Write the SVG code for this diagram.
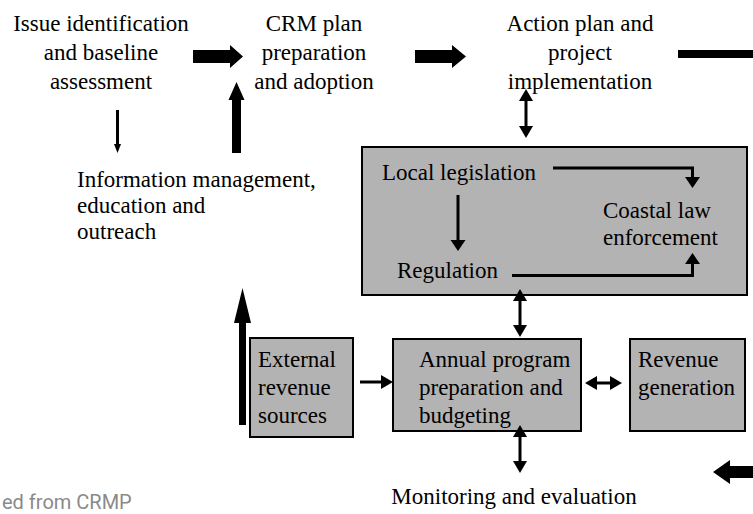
<svg xmlns="http://www.w3.org/2000/svg" width="753" height="514" viewBox="0 0 753 514">
  <style>
    text.t { font-family: 'Liberation Serif', 'Times New Roman', Tinos, 'DejaVu Serif', serif; font-size: 23px; fill: #000; }
    text.c { text-anchor: middle; }
    .box { fill: #b3b3b3; stroke: #000; stroke-width: 2; }
    .blk { fill: #000; }
    .ln { fill: none; stroke: #000; stroke-width: 3; }
    text.note { font-family: Roboto, 'Noto Sans', sans-serif; font-size: 20px; fill: #8a8a8a; }
  </style>
  <defs>
    <!-- arrowheads are anchored at their base, so lines stop where the head begins -->
    <marker id="ah" viewBox="0 0 12 14" refX="0" refY="7" markerWidth="12" markerHeight="14" markerUnits="userSpaceOnUse" orient="auto-start-reverse" overflow="visible">
      <path d="M0,0 L12,7 L0,14 Z" fill="#000"/>
    </marker>
    <marker id="ahw" viewBox="0 0 11 15" refX="0" refY="7.5" markerWidth="11" markerHeight="15" markerUnits="userSpaceOnUse" orient="auto" overflow="visible">
      <path d="M0,0 L11,7.5 L0,15 Z" fill="#000"/>
    </marker>
    <marker id="ahs" viewBox="0 0 9 7" refX="0" refY="3.5" markerWidth="9" markerHeight="7" markerUnits="userSpaceOnUse" orient="auto" overflow="visible">
      <path d="M0,0 L9,3.5 L0,7 Z" fill="#000"/>
    </marker>
  </defs>

  <!-- nodes -->
  <g id="issue-identification">
    <text class="t c" x="101" y="31">Issue identification</text>
    <text class="t c" x="101" y="60">and baseline</text>
    <text class="t c" x="101" y="89">assessment</text>
  </g>
  <g id="crm-plan">
    <text class="t c" x="314" y="31">CRM plan</text>
    <text class="t c" x="314" y="60">preparation</text>
    <text class="t c" x="314" y="89">and adoption</text>
  </g>
  <g id="action-plan">
    <text class="t c" x="580" y="31">Action plan and</text>
    <text class="t c" x="580" y="60">project</text>
    <text class="t c" x="580" y="89">implementation</text>
  </g>
  <g id="information-management">
    <text class="t" x="77" y="187">Information management,</text>
    <text class="t" x="77" y="213">education and</text>
    <text class="t" x="77" y="239">outreach</text>
  </g>
  <g id="legislation-enforcement">
    <rect class="box" x="362" y="147" width="385" height="148"/>
    <text class="t" x="382" y="180">Local legislation</text>
    <text class="t" x="397" y="278">Regulation</text>
    <text class="t" x="603" y="218">Coastal law</text>
    <text class="t" x="603" y="245">enforcement</text>
  </g>
  <g id="external-revenue">
    <rect class="box" x="250" y="338" width="103" height="99"/>
    <text class="t" x="258" y="367">External</text>
    <text class="t" x="258" y="395">revenue</text>
    <text class="t" x="258" y="423">sources</text>
  </g>
  <g id="annual-program">
    <rect class="box" x="393" y="339" width="188" height="92"/>
    <text class="t" x="419" y="367">Annual program</text>
    <text class="t" x="419" y="395">preparation and</text>
    <text class="t" x="419" y="423">budgeting</text>
  </g>
  <g id="revenue-generation">
    <rect class="box" x="630" y="339" width="115" height="92"/>
    <text class="t" x="638" y="367">Revenue</text>
    <text class="t" x="638" y="395">generation</text>
  </g>
  <g id="monitoring">
    <text class="t c" x="514" y="504">Monitoring and evaluation</text>
  </g>
  <g id="source-note">
    <text class="note" x="2" y="509">ed from CRMP</text>
  </g>

  <!-- connectors -->
  <g id="connectors">
    <!-- block arrows of the main cycle -->
    <polygon class="blk" points="193,50 230,50 230,45 243,56.5 230,68 230,63 193,63"/>
    <polygon class="blk" points="415,50 452,50 452,45 466,56.5 452,68 452,63 415,63"/>
    <rect class="blk" x="678" y="50" width="75" height="8"/>
    <polygon class="blk" points="232,153 232,100 228.5,100 236.5,82 244.5,100 241,100 241,153"/>
    <polygon class="blk" points="239,425 239,323 234,323 242.5,288 251,323 246,323 246,425"/>
    <polygon class="blk" points="713,472 730,460 730,466 753,466 753,478 730,478 730,484"/>

    <!-- thin arrows -->
    <line class="ln" x1="117.5" y1="110" x2="117.5" y2="144" stroke-width="1.5" marker-end="url(#ahs)"/>
    <line class="ln" x1="526" y1="101" x2="526" y2="126" marker-start="url(#ah)" marker-end="url(#ah)"/>
    <line class="ln" x1="520" y1="301" x2="520" y2="325" marker-start="url(#ah)" marker-end="url(#ah)"/>
    <line class="ln" x1="520" y1="437" x2="520" y2="461" marker-start="url(#ah)" marker-end="url(#ah)"/>
    <line class="ln" x1="597" y1="383" x2="610" y2="383" marker-start="url(#ah)" marker-end="url(#ah)"/>
    <line class="ln" x1="360" y1="382" x2="381" y2="382" marker-end="url(#ah)"/>
    <line class="ln" x1="458" y1="195" x2="458" y2="240" marker-end="url(#ahw)"/>
    <path class="ln" d="M553,168 H692.5 V177" marker-end="url(#ahw)"/>
    <path class="ln" d="M512,275.5 H692.5 V264" stroke-width="5" marker-end="url(#ahw)"/>
  </g>
</svg>
